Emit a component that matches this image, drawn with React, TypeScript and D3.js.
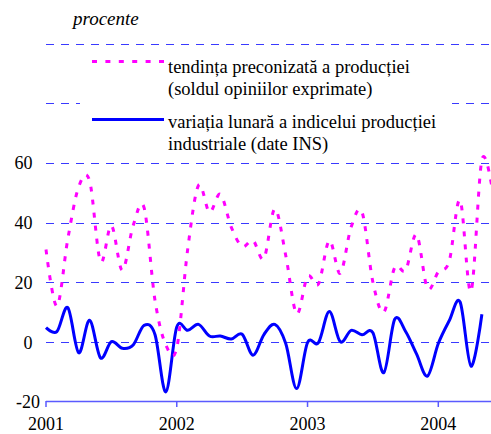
import React from "react";
import * as d3 from "d3";

// Monthly data from Jan 2001
const startYear = 2001;
const yearTicks = [2001, 2002, 2003, 2004];
const yTicks = [-20, 0, 20, 40, 60, 80, 100];
const yLabelTicks = [-20, 0, 20, 40, 60];

// tendinta preconizata a productiei (soldul opiniilor exprimate)
const tendinta = [
  31, 12, 34.5, 52, 54, 27, 39, 24, 39, 45, 14, -1,
  -2, 31, 52.5, 43.5, 49.5, 38.5, 32, 34, 28, 44.6, 29, 9.5,
  22, 19.4, 34, 23, 38.5, 43.5, 20, 10, 25, 24, 36, 18,
  23.5, 27, 47.5, 17, 61, 50,
];

// variatia lunara a indicelui productiei industriale (date INS)
const variatia = [
  4.8, 3.5, 11.5, -3.6, 7.3, -5.3, 0.1, -2.1, -1.0, 5.6, 2.5, -16.7,
  5.0, 3.9, 5.9, 2.0, 2.0, 1.0, 2.6, -4.4, 2.5, 5.9, -0.5, -15.6,
  -0.2, -0.2, 10.2, 0.1, 3.9, 2.4, 3.1, -10.3, 7.6, 3.5, -4, -11.4,
  -0.5, 7.1, 13.4, -8.1, 9.3,
];

const legendLabels = [
  ["tendința preconizată a producției", "(soldul opiniilor exprimate)"],
  ["variația lunară a indicelui producției", "industriale (date INS)"],
];

export default function App() {
  const W = 491;
  const H = 434;
  const x = d3.scaleLinear().domain([0, 36]).range([46, 438.3]);
  const y = d3.scaleLinear().domain([-20, 100]).range([401.7, 43.5]);
  const line = d3
    .line<number>()
    .x((_, i) => x(i))
    .y((d) => y(d))
    .curve(d3.curveCatmullRom.alpha(0));
  const fontStyle = { fontFamily: '"Liberation Serif", "DejaVu Serif", "Times New Roman", Times, serif' };
  const gridColor = "#3a3aff";
  const axisColor = "#5a5aff";
  return (
    <div style={{ position: "absolute", left: 0, top: 0 }}>
      <style>{`body{margin:0}`}</style>
      <svg width={W} height={H} style={{ display: "block", background: "#fff" }}>
        {/* gridlines */}
        {yTicks
          .filter((t) => t > -20)
          .map((t) => (
            <line
              key={t}
              x1={46}
              x2={W}
              y1={Math.round(y(t)) + 0.5}
              y2={Math.round(y(t)) + 0.5}
              stroke={gridColor}
              strokeWidth={1}
              strokeDasharray="8,7"
            />
          ))}
        {/* x axis */}
        <line x1={46} x2={W} y1={401.5} y2={401.5} stroke={axisColor} strokeWidth={1.5} />
        {yearTicks.map((yr) => {
          const xi = x((yr - startYear) * 12);
          return (
            <g key={yr}>
              <line x1={xi} x2={xi} y1={401} y2={407} stroke={axisColor} strokeWidth={1.5} />
              <text x={xi} y={430} textAnchor="middle" style={fontStyle} fontSize={18} fill="#000">
                {yr}
              </text>
            </g>
          );
        })}
        {/* y labels */}
        {yLabelTicks.map((t) => (
          <text
            key={t}
            x={t === -20 ? 40 : 32.5}
            y={y(t) + 6.5}
            textAnchor="end"
            style={fontStyle}
            fontSize={18}
            fill="#000"
          >
            {t}
          </text>
        ))}
        {/* series */}
        <path d={line(variatia) || ""} fill="none" stroke="#0000ff" strokeWidth={3} strokeLinejoin="round" />
        <path d={line(tendinta) || ""} fill="none" stroke="#ff00ff" strokeWidth={3} strokeDasharray="5,8" />
        {/* legend */}
        <rect x={80} y={50} width={372} height={108} fill="#fff" />
        <line x1={92} x2={164} y1={61.5} y2={61.5} stroke="#ff00ff" strokeWidth={3} strokeDasharray="5,8.4" />
        <line x1={92} x2={164} y1={119.5} y2={119.5} stroke="#0000ff" strokeWidth={3} />
        {legendLabels.map((lines, k) =>
          lines.map((s, j) => (
            <text
              key={`${k}-${j}`}
              x={168}
              y={(k === 0 ? 73 : 128) + j * 22}
              style={fontStyle}
              fontSize={18.5}
              fill="#000"
            >
              {s}
            </text>
          ))
        )}
        <text x={73} y={25} style={fontStyle} fontSize={19} fontStyle="italic" fill="#000">
          procente
        </text>
      </svg>
    </div>
  );
}
